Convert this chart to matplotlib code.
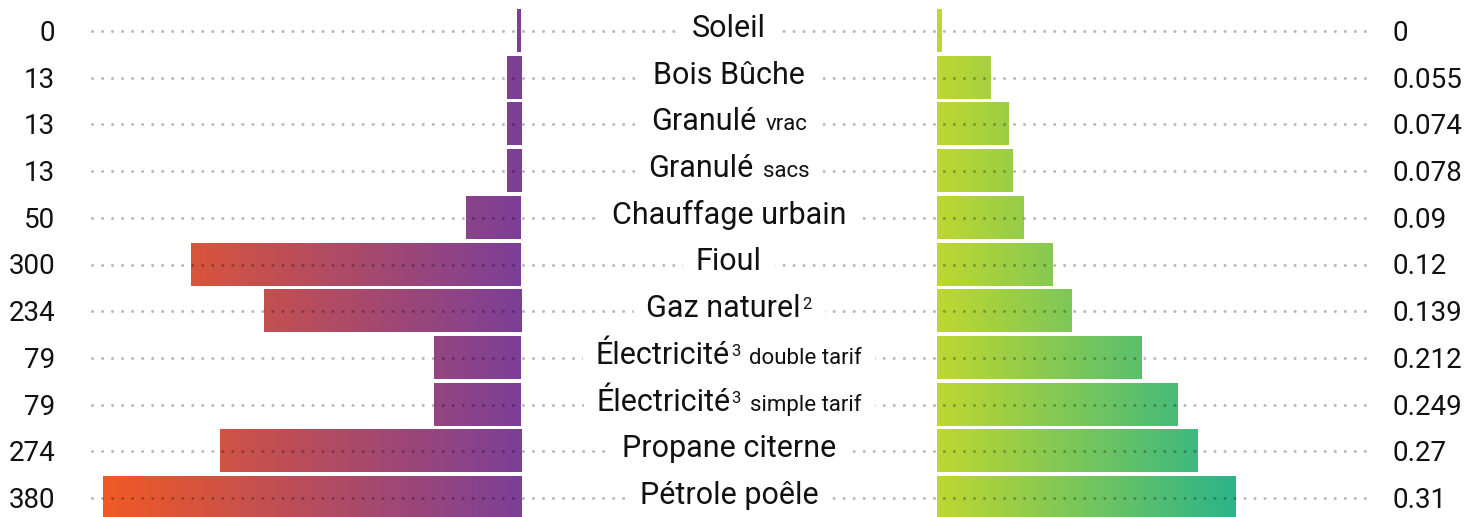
import numpy as np
import matplotlib
matplotlib.use('Agg')
import matplotlib.pyplot as plt
from matplotlib.colors import LinearSegmentedColormap, Normalize
from matplotlib.patches import Rectangle

plt.rcParams['font.family'] = ['Roboto', 'DejaVu Sans']

# data, top to bottom
labels = ['Soleil', 'Bois Bûche', 'Granulé', 'Granulé', 'Chauffage urbain', 'Fioul',
          'Gaz naturel', 'Électricité', 'Électricité', 'Propane citerne', 'Pétrole poêle']
notes = ['', '', '', '', '', '', '2', '3', '3', '', '']
details = ['', '', 'vrac', 'sacs', '', '', '', 'double tarif', 'simple tarif', '', '']
left_values = [0, 13, 13, 13, 50, 300, 234, 79, 79, 274, 380]
right_values = [0, 0.055, 0.074, 0.078, 0.09, 0.12, 0.139, 0.212, 0.249, 0.27, 0.31]

W, H = 1466, 517
ROW = 46.7      # px between rows
TOP = 31        # px of first row centre
rows = np.arange(len(labels))
y_top = -TOP / ROW
y_bot = (H - TOP) / ROW

fig = plt.figure(figsize=(W / 100, H / 100), dpi=100)

ax_l = fig.add_axes([92 / W, 0, (521 - 92) / W, 1])
ax_r = fig.add_axes([937 / W, 0, (1366 - 937) / W, 1])
ax_o = fig.add_axes([0, 0, 1, 1])
ax_o.set_facecolor('none')

left_cmap = LinearSegmentedColormap.from_list('left', ['#7c3f98', '#f15a24'])
right_cmap = LinearSegmentedColormap.from_list('right', ['#bfd730', '#2bb48a'])


def gradient_bars(ax, values, cmap, vmax, min_w):
    bars = ax.barh(rows, [max(v, min_w) for v in values], height=0.9,
                   color='none', linewidth=0)
    norm = Normalize(0, vmax)
    for bar in bars:
        x0, y0 = bar.get_x(), bar.get_y()
        w, h = bar.get_width(), bar.get_height()
        grad = np.linspace(x0, x0 + w, 256)[None, :]
        ax.imshow(grad, extent=(x0, x0 + w, y0, y0 + h), cmap=cmap, norm=norm,
                  aspect='auto', interpolation='bilinear')


gradient_bars(ax_l, left_values, left_cmap, max(left_values), 3.6)
gradient_bars(ax_r, right_values, right_cmap, max(right_values), 0.0042)

ax_l.set_xlim(390, 0)
ax_r.set_xlim(0, 0.4448)
for ax in (ax_l, ax_r, ax_o):
    ax.set_ylim(y_bot, y_top)
    ax.axis('off')
ax_o.set_xlim(0, W)

# dotted guide lines, over the bars
ax_o.hlines(rows, 92, 1366, colors='black', alpha=0.28, linewidth=2.2,
            linestyles=(0, (0.01, 3.27)), capstyle='round', zorder=3)

# side values
for r, lv, rv in zip(rows, left_values, right_values):
    ax_o.text(55, r + 10 / ROW, f'{lv:g}', ha='right', va='baseline',
              fontsize=20, color='#111111', zorder=5)
    ax_o.text(1393, r + 10 / ROW, f'{rv:g}', ha='left', va='baseline',
              fontsize=20, color='#111111', zorder=5)

# centre labels made of several pieces
renderer = fig.canvas.get_renderer()


def text_width(txt, size):
    t = ax_o.text(0, 0, txt, fontsize=size)
    w = t.get_window_extent(renderer).width
    t.remove()
    return w


MAIN, SUP, SMALL = 22, 12, 16
for r, lab, note, det in zip(rows, labels, notes, details):
    pieces = [(lab, MAIN, 0, 0)]
    if note:
        pieces.append((note, SUP, 8, 1))
    if det:
        pieces.append((det, SMALL, 0, 9))
    widths = [text_width(p[0], p[1]) for p in pieces]
    total = sum(widths) + sum(p[3] for p in pieces)
    x = 729 - total / 2
    ax_o.add_patch(Rectangle((x - 13, r - 0.32), total + 26, 0.64,
                             facecolor='white', linewidth=0, zorder=4))
    base = r + 6 / ROW
    for (txt, size, rise, gap), w in zip(pieces, widths):
        x += gap
        ax_o.text(x, base - rise / ROW, txt, ha='left', va='baseline',
                  fontsize=size, color='#111111', zorder=5)
        x += w

fig.savefig('out.png', dpi=100)
